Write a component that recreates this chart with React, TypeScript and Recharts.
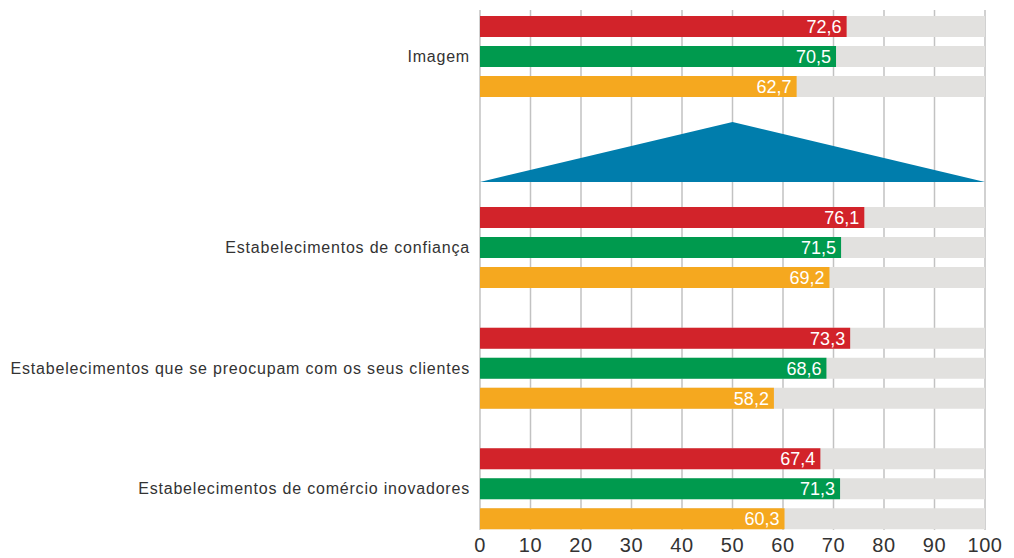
import React from 'react';
import {
  BarChart,
  Bar,
  XAxis,
  YAxis,
  CartesianGrid,
  LabelList,
  AreaChart,
  Area,
} from 'recharts';

const groups = [
  'Imagem',
  'Estabelecimentos de confiança',
  'Estabelecimentos que se preocupam com os seus clientes',
  'Estabelecimentos de comércio inovadores',
];
const redValues = [72.6, 76.1, 73.3, 67.4];
const greenValues = [70.5, 71.5, 68.6, 71.3];
const orangeValues = [62.7, 69.2, 58.2, 60.3];
const xTicks = [0, 10, 20, 30, 40, 50, 60, 70, 80, 90, 100];

// divider shape between the first block and the rest
const triangleX = [0, 50, 100];
const triangleY = [0, 1, 0];

const rows = groups.map((name, i) => ({
  name,
  red: redValues[i],
  green: greenValues[i],
  orange: orangeValues[i],
}));
const topRows = rows.slice(0, 1);
const bottomRows = rows.slice(1);
const triangle = triangleX.map((x, i) => ({ x, y: triangleY[i] }));

const series = [
  { key: 'red', color: '#d2232a' },
  { key: 'green', color: '#009a4e' },
  { key: 'orange', color: '#f5a81f' },
];

const FONT = '"Liberation Sans", Arial, sans-serif';
const W = 1014;
const H = 558;
const PLOT_LEFT = 480;
const PLOT_RIGHT = 29;

const fmt = (v: unknown) => Number(v).toFixed(1).replace('.', ',');

const categoryTick = { fontSize: 16, fill: '#333', fontFamily: FONT, letterSpacing: 0.8 };

function renderSeries() {
  return series.map((s) => (
    <Bar
      key={s.key}
      dataKey={s.key}
      fill={s.color}
      barSize={21}
      background={{ fill: '#e2e1df' }}
      isAnimationActive={false}
    >
      <LabelList
        dataKey={s.key}
        position="insideRight"
        offset={5}
        fill="#ffffff"
        fontSize={18}
        fontFamily={FONT}
        formatter={fmt}
      />
    </Bar>
  ));
}

export default function App() {
  return (
    <div style={{ position: 'absolute', left: 0, top: 0, width: W, height: H, background: '#fff' }}>
      {/* first block, carrying the grid and the value axis for the whole figure */}
      <div style={{ position: 'absolute', left: 0, top: 0 }}>
        <BarChart
          width={W}
          height={H}
          data={topRows}
          layout="vertical"
          barGap={9}
          margin={{ top: 10, right: PLOT_RIGHT, bottom: 0, left: 0 }}
        >
          <CartesianGrid horizontal={false} stroke="#c2c2c2" strokeWidth={1.5} />
          <XAxis
            type="number"
            domain={[0, 100]}
            ticks={xTicks}
            height={28}
            axisLine={false}
            tickLine={false}
            tickSize={0}
            tickMargin={8}
            tick={{ fontSize: 20, fill: '#333', fontFamily: FONT, letterSpacing: 0.6 }}
          />
          <YAxis
            type="category"
            dataKey="name"
            width={PLOT_LEFT}
            padding={{ top: 0, bottom: 428 }}
            axisLine={false}
            tickLine={false}
            tickSize={0}
            tickMargin={10}
            tick={categoryTick}
          />
          {renderSeries()}
        </BarChart>
      </div>

      <div style={{ position: 'absolute', left: 0, top: 122 }}>
        <AreaChart
          width={W}
          height={60}
          data={triangle}
          margin={{ top: 0, right: PLOT_RIGHT, bottom: 0, left: PLOT_LEFT }}
        >
          <XAxis type="number" dataKey="x" domain={[0, 100]} hide />
          <YAxis type="number" domain={[0, 1]} hide />
          <Area
            type="linear"
            dataKey="y"
            fill="#007dac"
            fillOpacity={1}
            stroke="none"
            isAnimationActive={false}
          />
        </AreaChart>
      </div>

      <div style={{ position: 'absolute', left: 0, top: 187 }}>
        <BarChart
          width={W}
          height={362}
          data={bottomRows}
          layout="vertical"
          barGap={9}
          margin={{ top: 0, right: PLOT_RIGHT, bottom: 0, left: 0 }}
        >
          <XAxis type="number" domain={[0, 100]} hide />
          <YAxis
            type="category"
            dataKey="name"
            width={PLOT_LEFT}
            axisLine={false}
            tickLine={false}
            tickSize={0}
            tickMargin={10}
            tick={categoryTick}
          />
          {renderSeries()}
        </BarChart>
      </div>
    </div>
  );
}
